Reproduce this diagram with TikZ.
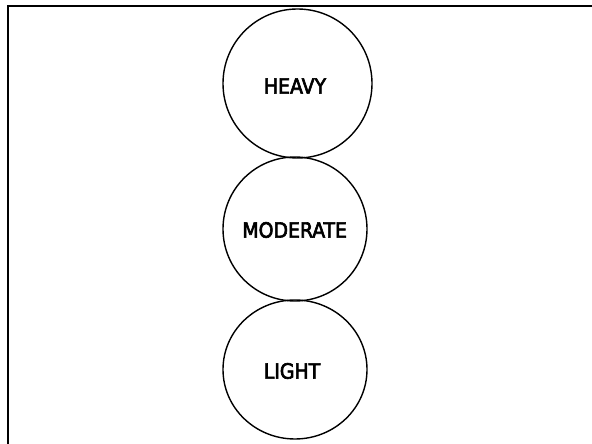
\documentclass[tikz,border=0pt]{standalone}
\usepackage{fontspec}
\setmainfont{DejaVu Sans Condensed}
\newfontfamily\labelfont{DejaVu Sans Condensed}[FakeBold=3]
\usetikzlibrary{shapes.geometric}
\begin{document}
\begin{tikzpicture}[x=1pt,y=1pt,
  level/.style={draw=black,line width=1.4pt,ellipse,inner sep=0pt},
  caption/.style={font=\fontsize{21}{25}\labelfont}]
\useasboundingbox (0,0) rectangle (592,444);
% frame: only its top and left edges fall inside the page
\draw[line width=2.5pt,line join=miter] (592,438) -- (8,438) -- (8,0);
% stacked intensity levels
\node[level,minimum width=149pt,minimum height=149pt] (heavy) at (297.5,360.5) {};
\node[level,minimum width=144pt,minimum height=144pt] (moderate) at (295,215) {};
\node[level,minimum width=144pt,minimum height=139pt] (light) at (295,74.5) {};
\node[caption] (heavyt) at (295,358) {HEAVY};
\node[caption] (moderatet) at (294.7,214) {MODERATE};
\node[caption] (lightt) at (292,73) {LIGHT};
\end{tikzpicture}
\end{document}
